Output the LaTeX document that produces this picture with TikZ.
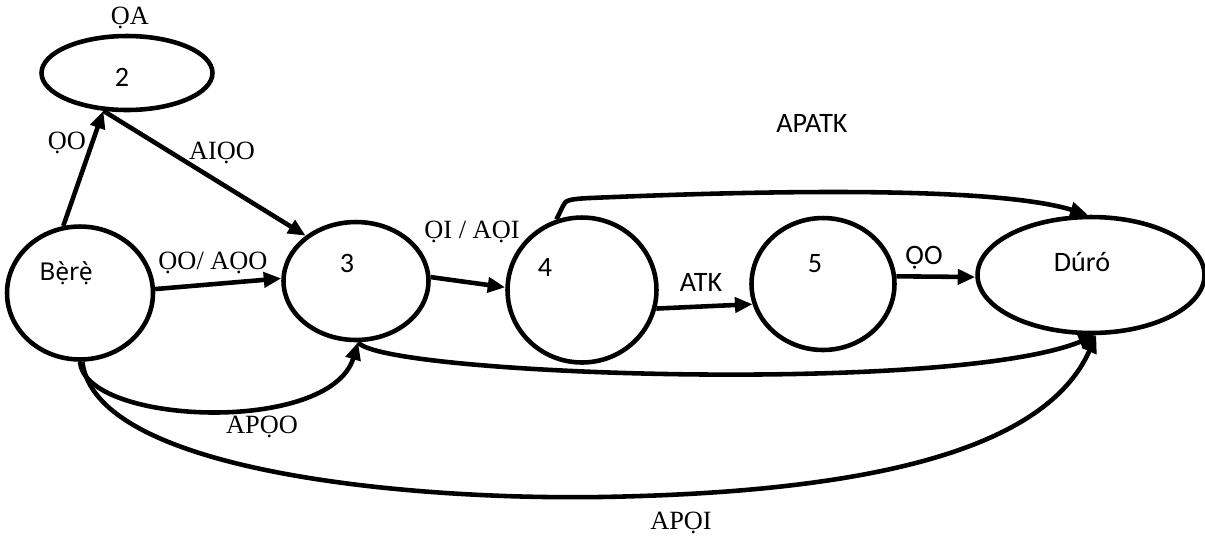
\documentclass[tikz,border=0pt]{standalone}
\usepackage{fontspec}
\setmainfont{Liberation Serif}
\setsansfont{Carlito}
\newfontfamily\yorubafont{Noto Sans}
\usetikzlibrary{shapes.geometric,arrows.meta}

\tikzstyle{stateNode} = [ellipse, draw=black, line width=2.6pt, inner sep=0pt]
\tikzstyle{stateText} = [font=\sffamily\fontsize{16}{19}\selectfont, inner sep=0pt]
\tikzstyle{serifLabel} = [font=\fontsize{15}{18}\selectfont, inner sep=1pt]
\tikzstyle{sansLabel} = [font=\sffamily\fontsize{16}{19}\selectfont, inner sep=1pt]
\tikzstyle{arrow} = [line width=2.6pt, -{Triangle[length=10pt,width=8.5pt]}]

\begin{document}
\begin{tikzpicture}[x=0.02cm, y=-0.02cm]
    \useasboundingbox (0,0) rectangle (1205,539);

    \node (n2)[stateNode, minimum width=3.42cm, minimum height=1.48cm, label={[stateText,xshift=-0.1cm,yshift=-0.08cm]center:2}] at (127,73) {};
    \node (Bere)[stateNode, minimum width=2.92cm, minimum height=2.66cm, label={[stateText,font=\yorubafont\fontsize{14}{17}\selectfont,xshift=-0.28cm,yshift=0.4cm]center:Bẹ̀rẹ̀}] at (80,293) {};
    \node (n3)[stateNode, minimum width=2.9cm, minimum height=2.36cm, label={[stateText,xshift=-0.18cm,yshift=0.36cm]center:3}] at (356,281) {};
    \node (n4)[stateNode, minimum width=2.98cm, minimum height=2.9cm, label={[stateText,xshift=-0.74cm,yshift=0.46cm]center:4}] at (582,290) {};
    \node (n5)[stateNode, minimum width=2.86cm, minimum height=2.64cm, label={[stateText,xshift=-0.16cm,yshift=0.4cm]center:5}] at (823,284) {};
    \node (Duro)[stateNode, minimum width=4.54cm, minimum height=2.32cm, label={[stateText,xshift=-0.18cm,yshift=0.26cm]center:Dúró}] at (1091,275) {};

    \draw [arrow] (Bere.104) -- (n2.238);
    \draw [arrow] (n2.238) -- (n3.138);
    \draw [arrow] (Bere.3) -- (n3.178);
    \draw [arrow] (n3.3) -- (n4.178);
    \draw [arrow] (n4.-14) -- (n5.196);
    \draw [arrow] (n5.6) -- (Duro.181);
    \draw [arrow] (n4.110) -- (563,206) .. controls (565,200) and (570,199) .. (590,198)
        .. controls (800,189) and (1000,188) .. (Duro.93);
    \draw [arrow] (n3.272) .. controls (380,375) and (950,395) .. (Duro.275);
    \draw [arrow] (Bere.270) .. controls (85,425) and (330,435) .. (n3.272);
    \draw [arrow] (Bere.272) .. controls (95,470) and (400,500) .. (600,497)
        .. controls (900,492) and (1050,440) .. (Duro.275);

    \node (lQA)[serifLabel] at (130,18) {ỌA};
    \node (lQO)[serifLabel] at (67,143) {ỌO};
    \node (lAIQO)[serifLabel] at (222,153) {AIỌO};
    \node (lQOAQO)[serifLabel] at (213,263) {ỌO/ AỌO};
    \node (lQIAQI)[serifLabel] at (472,232) {ỌI / AỌI};
    \node (lATK)[sansLabel] at (701,282) {ATK};
    \node (lQOend)[sansLabel] at (924,258) {ỌO};
    \node (lAPATK)[sansLabel] at (812,123) {APATK};
    \node (lAPQO)[serifLabel] at (262,427) {APỌO};
    \node (lAPQI)[serifLabel] at (681,523) {APỌI};

\end{tikzpicture}
\end{document}
